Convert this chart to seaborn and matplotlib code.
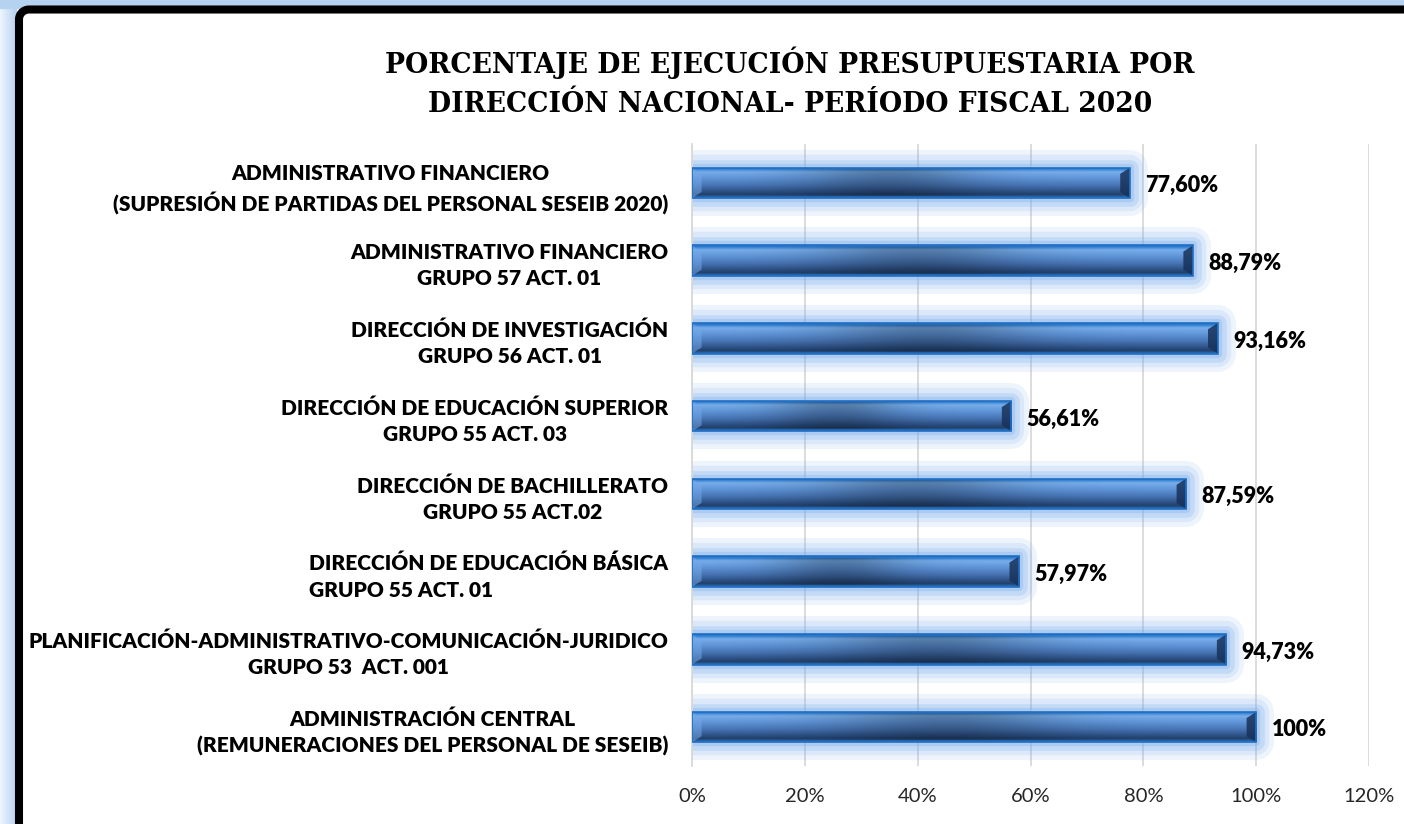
import numpy as np
import pandas as pd
import matplotlib
matplotlib.use("Agg")
import matplotlib.pyplot as plt
import seaborn as sns
from matplotlib.patches import Polygon, Rectangle
from matplotlib.colors import to_rgb

# Datos del grafico (de arriba hacia abajo)
categorias = [
    "ADMINISTRATIVO FINANCIERO\n(SUPRESIÓN DE PARTIDAS DEL PERSONAL SESEIB 2020)",
    "ADMINISTRATIVO FINANCIERO\nGRUPO 57 ACT. 01",
    "DIRECCIÓN DE INVESTIGACIÓN\nGRUPO 56 ACT. 01",
    "DIRECCIÓN DE EDUCACIÓN SUPERIOR\nGRUPO 55 ACT. 03",
    "DIRECCIÓN DE BACHILLERATO\nGRUPO 55 ACT.02",
    "DIRECCIÓN DE EDUCACIÓN BÁSICA\nGRUPO 55 ACT. 01",
    "PLANIFICACIÓN-ADMINISTRATIVO-COMUNICACIÓN-JURIDICO\nGRUPO 53  ACT. 001",
    "ADMINISTRACIÓN CENTRAL\n(REMUNERACIONES DEL PERSONAL DE SESEIB)",
]
porcentajes = [77.60, 88.79, 93.16, 56.61, 87.59, 57.97, 94.73, 100.0]
etiquetas = ["77,60%", "88,79%", "93,16%", "56,61%", "87,59%", "57,97%", "94,73%", "100%"]
alineacion = ["center", "center", "center", "center", "center", "left", "center", "center"]
x_ticks = [0, 20, 40, 60, 80, 100, 120]
titulo = "PORCENTAJE DE EJECUCIÓN PRESUPUESTARIA POR\nDIRECCIÓN NACIONAL- PERÍODO FISCAL 2020"

sns.set_theme(style="white")
plt.rcParams['font.family'] = ['Lato', 'DejaVu Sans']
plt.rcParams['text.color'] = 'black'

W, H = 1404, 824
fig = plt.figure(figsize=(W / 100, H / 100), dpi=100)

# Fondo: brillo azul y marco negro redondeado (en pixeles)
bg = fig.add_axes([0, 0, 1, 1], zorder=-5)
bg.set_xlim(0, W)
bg.set_ylim(H, 0)
bg.axis('off')
glow = np.linspace(0, 1, 50)
c_a, c_b = np.array(to_rgb('#eef5fd')), np.array(to_rgb('#b6d2f1'))
glow_img = c_a + glow[None, :, None] * (c_b - c_a) * np.ones((2, 1, 1))
bg.imshow(glow_img, extent=(0, 17, H, 0), aspect='auto', zorder=0)
bg.add_patch(Rectangle((0, 0), W, 8, color='#b6d2f1', zorder=0))
r = 10
cx, cy = 19 + r, 9.5 + r
t = np.linspace(np.pi, 1.5 * np.pi, 25)
xs = np.concatenate([[19], cx + r * np.cos(t), [W]])
ys = np.concatenate([[H], cy + r * np.sin(t), [9.5]])
bg.fill(np.concatenate([xs, [W]]), np.concatenate([ys, [H]]), color='white', zorder=1)
bg.plot(xs, ys, color='black', lw=5.8, solid_capstyle='butt', zorder=2)
bg.set_xlim(0, W)
bg.set_ylim(H, 0)

# Grafico de barras
ax = fig.add_axes([0.4929, 0.0704, 0.4822, 0.7548])
df = pd.DataFrame({"categoria": categorias, "porcentaje": porcentajes})
sns.barplot(data=df, x="porcentaje", y="categoria", orient="h", width=0.39,
            color="#3d6aa6", ax=ax, zorder=3)
ylim = ax.get_ylim()

# Degradado vertical de la barra (arriba -> abajo)
stops = [0.0, 0.07, 0.15, 0.38, 0.60, 0.80, 0.90, 1.0]
cols = ['#1b6cc2', '#3b86d8', '#78aeea', '#5d92d6', '#4673b2', '#2c5084', '#22406a', '#2a7ad0']
rows = np.linspace(0, 1, 60)
rgb = np.array([to_rgb(c) for c in cols])
vert = np.stack([np.interp(rows, stops, rgb[:, k]) for k in range(3)], axis=1)
cols_t = np.linspace(0, 1, 300)
horiz = 1 - 0.27 * np.exp(-((cols_t - 0.45) / 0.2) ** 2)

for p in ax.patches:
    x0, y0, w, h = p.get_x(), p.get_y(), p.get_width(), p.get_height()
    x1, y1 = x0 + w, y0 + h
    for lw, a in [(26, 0.12), (19, 0.16), (12, 0.22), (6, 0.3)]:
        ax.add_patch(Rectangle((x0, y0), w, h, fc='none', ec='#74aaee',
                               lw=lw, alpha=a, joinstyle='round', zorder=2))
    shade = vert[:, None, :] * horiz[None, :, None]
    shade = np.clip(shade, 0, 1)
    shade[:3] = vert[:3, None, :]
    shade[-4:] = vert[-4:, None, :]
    im = ax.imshow(shade, extent=(x0, x1, y1, y0), aspect='auto',
                   origin='upper', zorder=4)
    im.set_clip_path(p)
    p.set_facecolor('none')
    p.set_edgecolor('#1f6fc4')
    p.set_linewidth(1.2)
    p.set_zorder(6)
    dx = 1.7
    ax.add_patch(Polygon([(x1 - dx, y0 + 0.2 * h), (x1, y0), (x1, y1), (x1 - dx, y1 - 0.2 * h)],
                         closed=True, fc='#18325a', ec='none', alpha=0.85, zorder=5))
    ax.add_patch(Polygon([(x0, y0), (x0 + dx, y0 + 0.2 * h), (x0 + dx, y1 - 0.2 * h), (x0, y1)],
                         closed=True, fc='#74a8e6', ec='none', alpha=0.55, zorder=5))

ax.set_ylim(ylim)
ax.set_xlim(0, 120)

# Etiquetas de valor
for p, lab in zip(ax.patches, etiquetas):
    ax.annotate(lab, (p.get_x() + p.get_width(), p.get_y() + p.get_height() / 2),
                xytext=(11, -2), textcoords='offset points', ha='left', va='center',
                fontsize=15.5, fontweight='heavy', color='black', zorder=7)

ax.set_xticks(x_ticks)
ax.set_xticklabels([f"{t}%" for t in x_ticks], fontsize=14.5, color='#262626')
ax.set_yticks(range(len(categorias)))
ax.set_yticklabels(categorias, fontsize=15, fontweight='heavy', color='black')
for tl, al in zip(ax.get_yticklabels(), alineacion):
    tl.set_multialignment(al)
    tl.set_linespacing(1.45)
ax.tick_params(axis='y', length=0, pad=17)
ax.tick_params(axis='x', length=0, pad=16)
ax.set_xlabel("")
ax.set_ylabel("")
ax.grid(axis='x', color='#d9d9d9', lw=1.3, zorder=0)
ax.set_axisbelow(True)
for s in ['top', 'right', 'bottom']:
    ax.spines[s].set_visible(False)
ax.spines['left'].set_color('#d9d9d9')
ax.spines['left'].set_linewidth(1.3)
ax.patch.set_alpha(0)

fig.text(0.5627, 0.9005, titulo, ha='center', va='center', multialignment='center',
         fontsize=19.2, fontweight='bold', family=['DejaVu Serif'], linespacing=1.55,
         color='black')

fig.savefig("out.png", dpi=100, facecolor='white', edgecolor='none')
